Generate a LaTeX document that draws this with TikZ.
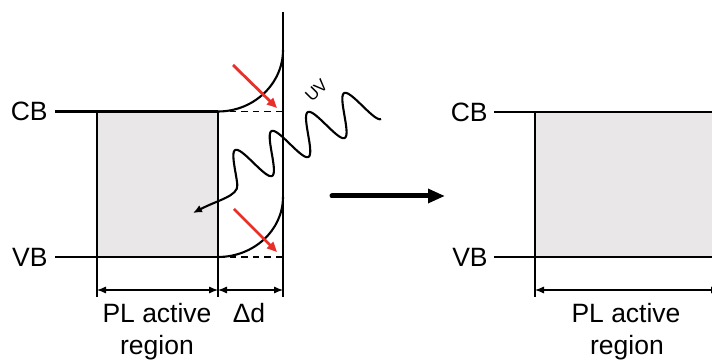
\documentclass[tikz,border=0pt]{standalone}
\usepackage{fontspec}
\setmainfont{Liberation Sans}
\usetikzlibrary{arrows.meta}
\definecolor{boxgray}{HTML}{EAE7E8}
\definecolor{arrred}{HTML}{E8302A}
\begin{document}
\begin{tikzpicture}[x=0.5pt,y=-0.5pt,
  band/.style={line width=1.05pt},
  dashband/.style={line width=0.75pt, dash pattern=on 3.3pt off 2.5pt},
  extline/.style={line width=0.6pt},
  dimline/.style={line width=0.6pt,{Latex[length=4.5pt,width=3.6pt]}-{Latex[length=4.5pt,width=3.6pt]}},
  redarrow/.style={arrred, line width=1.4pt, -{Triangle[length=5pt,width=4.4pt]}},
  bigarrow/.style={line width=2.5pt, line cap=round, -{Triangle[length=8.5pt,width=6.8pt]}},
  wave/.style={line width=1.05pt, -{Latex[length=4.5pt,width=4pt]}},
  lbl/.style={inner sep=0pt, font=\fontsize{13.25}{16}\selectfont},
  uvlbl/.style={inner sep=0pt, font=\fontsize{8.5}{10}\selectfont}]
\useasboundingbox (0,0) rectangle (712,362);
\clip (0,0) rectangle (712,362);

% ---------- left diagram ----------
\coordinate (cbL) at (55,111.5);
\coordinate (cbA) at (97,111.5);
\coordinate (cbB) at (218,111.5);
\coordinate (vbL) at (55,257);
\coordinate (vbA) at (97,257);
\coordinate (vbB) at (218,257);
\coordinate (wallT) at (283,12);
\coordinate (wallCB) at (283,111.5);
\coordinate (wallUp) at (283,50);
\coordinate (wallLow) at (283,197);
\coordinate (wallVB) at (283,257);

\fill[boxgray] (cbA) rectangle (vbB);
\draw[band] (cbL) -- (cbB);
\draw[band] (vbL) -- (vbB);
\draw[band] (cbA) -- (vbA);
\draw[band] (cbB) -- (vbB);
\draw[band] (wallT) -- (wallVB);
\draw[band] (cbB) .. controls (253.9,111.5) and (283,83.7) .. (wallUp);
\draw[band] (vbB) .. controls (253.9,257) and (283,230) .. (wallLow);
\draw[dashband] (cbB) -- (wallCB);
\draw[dashband] (vbB) -- (wallVB);

% extension and dimension lines
\coordinate (eA) at (97,297);
\coordinate (eB) at (218,297);
\coordinate (eC) at (283,297);
\draw[extline] (vbA) -- (eA);
\draw[extline] (vbB) -- (eB);
\draw[extline] (wallVB) -- (eC);
\coordinate (dA) at (97,290);
\coordinate (dB) at (218,290);
\coordinate (dC) at (283,290);
\draw[dimline] (dA) -- (dB);
\draw[dimline] (dB) -- (dC);

% labels
\node[lbl, anchor=east] (cbl) at (48,111.5) {CB};
\node[lbl, anchor=east] (vbl) at (48,257) {VB};
\node[lbl, anchor=base] (pl1) at (157,323) {PL active};
\node[lbl, anchor=base] (pl2) at (157,355) {region};
\node[lbl, anchor=base] (dd) at (249,323) {Δd};

% red arrows
\coordinate (r1s) at (233,65);
\coordinate (r1e) at (277,108);
\coordinate (r2s) at (234,209);
\coordinate (r2e) at (277,252);
\draw[redarrow] (r1s) -- (r1e);
\draw[redarrow] (r2s) -- (r2e);

% UV wave
\coordinate (wend) at (193,213);
\draw[wave] plot[domain=0:157.85, samples=220, smooth]
  ({371.7 - 0.886*\x + 9.34*cos(8.7805*\x)}, {101.3 + 0.463*\x + 17.68*cos(8.7805*\x)})
  .. controls (238.5,196) and (218,200) .. (wend);
\node[uvlbl, rotate=45] (uv) at (316.5,90.5) {UV};

% transition arrow
\coordinate (ta) at (332,196);
\coordinate (tb) at (445,196);
\draw[bigarrow] (ta) -- (tb);

% ---------- right diagram ----------
\coordinate (cbL2) at (494,112);
\coordinate (cbA2) at (535,112);
\coordinate (cbR2) at (722,112);
\coordinate (vbL2) at (494,257);
\coordinate (vbA2) at (535,257);
\coordinate (vbR2) at (722,257);
\fill[boxgray] (cbA2) rectangle (vbR2);
\draw[band] (cbL2) -- (cbR2);
\draw[band] (vbL2) -- (vbR2);
\draw[band] (cbA2) -- (vbA2);
\coordinate (eA2) at (535,297);
\draw[extline] (vbA2) -- (eA2);
\coordinate (dA2) at (535,290);
\coordinate (dB2) at (720,290);
\draw[dimline] (dA2) -- (dB2);
\node[lbl, anchor=east] (cbr) at (488,112) {CB};
\node[lbl, anchor=east] (vbr) at (488,257) {VB};
\node[lbl, anchor=base] (plr1) at (626,323) {PL active};
\node[lbl, anchor=base] (plr2) at (627,355) {region};
\end{tikzpicture}
\end{document}
